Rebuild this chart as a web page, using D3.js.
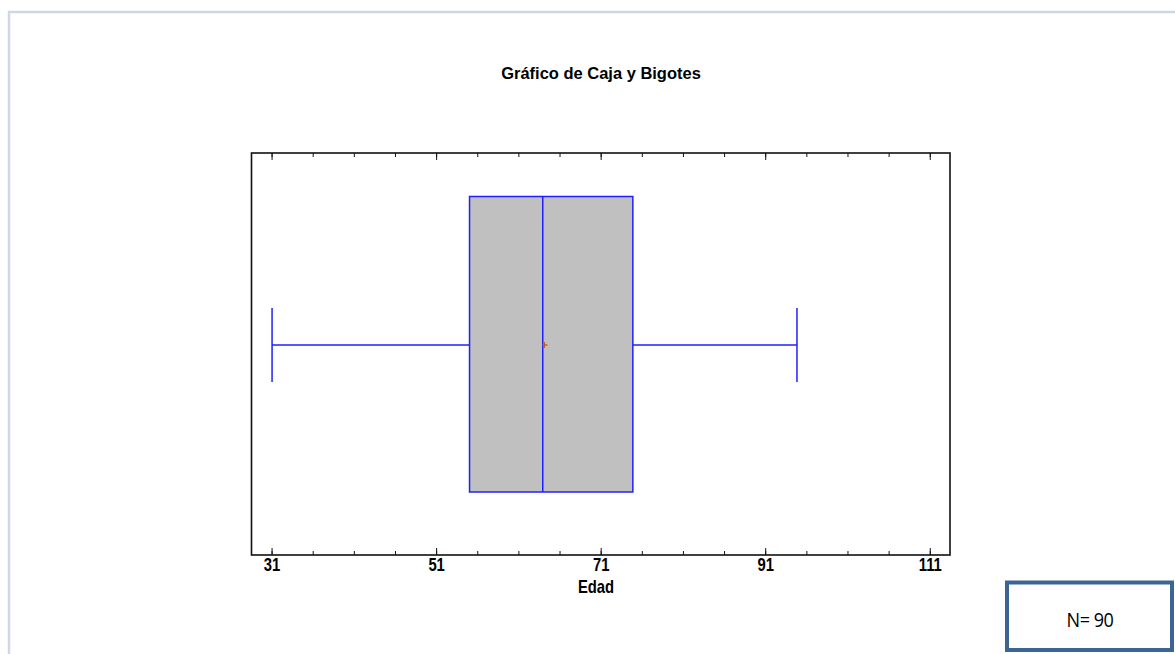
<!DOCTYPE html>
<html>
<head>
<meta charset="utf-8">
<script src="https://cdn.jsdelivr.net/npm/d3@7"></script>
<style>
  body { margin: 0; background: #fff; }
  svg { display: block; }
</style>
</head>
<body>
<svg id="chart" width="1175" height="654"></svg>
<script>
// box plot values (Edad, N = 90)
var varName = "Edad";
var stats = { min: 31, q1: 55, median: 63.9, q3: 74.85, max: 94.8, mean: 64.1 };
var majorTicks = [31, 51, 71, 91, 111];
var minorTicks = d3.range(31, 112, 5);
var nLabel = "N= 90";

var svg = d3.select("#chart");
var blue = "#2020ff";
var font = "'Liberation Sans', Arial, sans-serif";

// page frame
svg.append("path")
	.attr("d", "M9,654 V12 H1175")
	.attr("fill", "none")
	.attr("stroke", "#cfd7e6")
	.attr("stroke-width", 2.5);

var x = d3.scaleLinear().domain([28.5, 113.4]).range([251.5, 950]);
var plotTop = 153, plotBot = 555;

// narrow bold text like the original
function narrowText(px, py, size, sx, str) {
	return svg.append("text")
		.attr("transform", "translate(" + px + "," + py + ") scale(" + sx + ",1)")
		.attr("text-anchor", "middle")
		.style("font-family", font)
		.style("font-weight", "bold")
		.style("font-size", size + "px")
		.text(str);
}

narrowText(601, 79, 17, 0.97, "Gráfico de Caja y Bigotes");

// plot frame
svg.append("rect")
	.attr("x", x.range()[0]).attr("y", plotTop)
	.attr("width", x.range()[1] - x.range()[0]).attr("height", plotBot - plotTop)
	.attr("fill", "none").attr("stroke", "#111").attr("stroke-width", 1.6);

// ticks, inward on top and bottom
function ticks(vals, len) {
	svg.selectAll(null).data(vals).enter().append("line")
		.attr("x1", function(d) { return x(d); }).attr("x2", function(d) { return x(d); })
		.attr("y1", plotTop).attr("y2", plotTop + len)
		.attr("stroke", "#111").attr("stroke-width", 1);
	svg.selectAll(null).data(vals).enter().append("line")
		.attr("x1", function(d) { return x(d); }).attr("x2", function(d) { return x(d); })
		.attr("y1", plotBot).attr("y2", plotBot - len)
		.attr("stroke", "#111").attr("stroke-width", 1);
}
ticks(minorTicks, 4);
ticks(majorTicks, 7);

majorTicks.forEach(function(d) {
	narrowText(x(d), 571, 19, 0.78, d);
});

narrowText(596, 593, 18.5, 0.8, varName);

// whiskers and box
var boxTop = 196.5, boxBot = 492, midY = 345, capH = 37;
svg.append("line")
	.attr("x1", x(stats.min)).attr("x2", x(stats.q1))
	.attr("y1", midY).attr("y2", midY)
	.attr("stroke", blue).attr("stroke-width", 1.5);
svg.append("line")
	.attr("x1", x(stats.q3)).attr("x2", x(stats.max))
	.attr("y1", midY).attr("y2", midY)
	.attr("stroke", blue).attr("stroke-width", 1.5);
[stats.min, stats.max].forEach(function(v) {
	svg.append("line")
		.attr("x1", x(v)).attr("x2", x(v))
		.attr("y1", midY - capH).attr("y2", midY + capH)
		.attr("stroke", blue).attr("stroke-width", 1.5);
});
svg.append("rect")
	.attr("x", x(stats.q1)).attr("y", boxTop)
	.attr("width", x(stats.q3) - x(stats.q1)).attr("height", boxBot - boxTop)
	.attr("fill", "#c0c0c0").attr("stroke", blue).attr("stroke-width", 1.5);
svg.append("line")
	.attr("x1", x(stats.median)).attr("x2", x(stats.median))
	.attr("y1", boxTop).attr("y2", boxBot)
	.attr("stroke", blue).attr("stroke-width", 1.5);

// mean marker
var mx = x(stats.mean);
svg.append("path")
	.attr("d", "M" + (mx - 2) + "," + midY + "H" + (mx + 3) + "M" + mx + "," + (midY - 3) + "V" + (midY + 3))
	.attr("stroke", "#c0601a").attr("stroke-width", 1.3).attr("fill", "none");

// N box
svg.append("rect")
	.attr("x", 1007).attr("y", 582.5)
	.attr("width", 165).attr("height", 67.5)
	.attr("fill", "#fff").attr("stroke", "#3d6593").attr("stroke-width", 4);
svg.append("text")
	.attr("transform", "translate(1090,627) scale(0.9,1)")
	.attr("text-anchor", "middle")
	.style("font-family", "'Open Sans', sans-serif")
	.style("font-size", "20px")
	.style("letter-spacing", "-0.5px")
	.text(nLabel);
</script>
</body>
</html>
